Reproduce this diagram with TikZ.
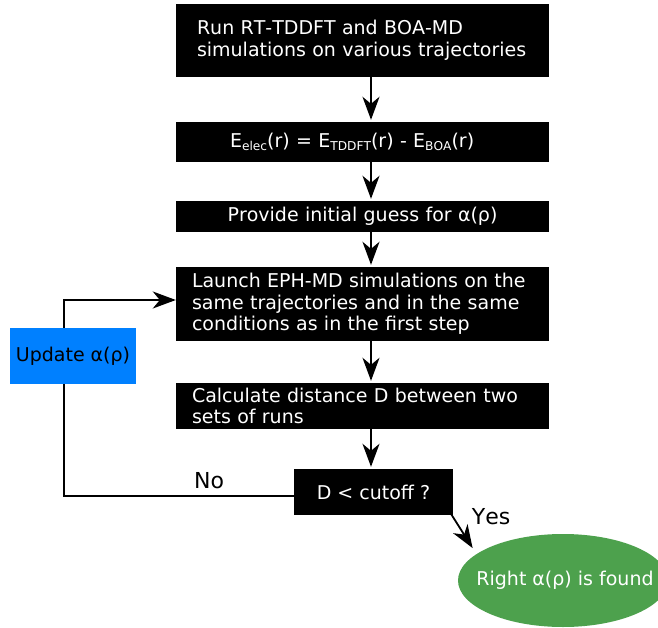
\documentclass[tikz,border=0pt]{standalone}
\usepackage{fontspec}
\setmainfont[Kerning=Off]{DejaVu Sans}
\usetikzlibrary{arrows.meta,shapes.geometric,calc}
\definecolor{updblue}{RGB}{0,128,255}
\definecolor{okgreen}{RGB}{77,161,77}
\newcommand\mybodyfont{\fontsize{19}{21.5}\selectfont}
\newcommand\mylabelfont{\fontsize{22}{26}\selectfont}
\newcommand\mysub[1]{\raisebox{-3.5pt}{\fontsize{12.2}{14}\selectfont #1}}
\begin{document}
\begin{tikzpicture}[x=1pt,y=-1pt,
  box/.style={fill=black, text=white, inner ysep=0pt, font=\mybodyfont, minimum width=373pt},
  conn/.style={line width=1.8pt, -{Stealth[length=23pt,width=17pt,inset=7pt]}},
  lbl/.style={font=\mylabelfont, anchor=base west, inner sep=0pt}]
\useasboundingbox (0,0) rectangle (658,628);
\coordinate (ax) at (371,0);
\coordinate (lx) at (64,0);
\node[box, minimum height=73pt, text width=331pt, inner xsep=21pt, align=left] (b1) at (362.5,40.5)
  {Run RT-TDDFT and BOA-MD\\simulations on various trajectories};
\node[box, minimum height=40pt, text width=265pt, inner xsep=54pt, align=left] (b2) at (362.5,142)
  {E\mysub{elec}(r) = E\mysub{TDDFT}(r) - E\mysub{BOA}(r)};
\node[box, minimum height=31pt, text width=373pt, inner xsep=0pt, align=center] (b3) at (362.5,216.5)
  {Provide initial guess for α(ρ)};
\node[box, minimum height=74pt, text width=341pt, inner xsep=16pt, align=left] (b4) at (362.5,304)
  {Launch EPH-MD simulations on the\\same trajectories and in the same\\conditions as in the first step};
\node[box, minimum height=46pt, text width=341pt, inner xsep=16pt, align=left] (b5) at (362.5,406)
  {Calculate distance D between two\\sets of runs};
\node[box, minimum width=159pt, minimum height=46pt, inner xsep=0pt] (dec) at (373.5,492)
  {D < cutoff ?};
\node[ellipse, fill=okgreen, minimum width=210pt, minimum height=93pt, inner sep=0pt,
  label={[text=white, font=\mybodyfont, xshift=2pt]center:Right α(ρ) is found}] (ell) at (563,580.5) {};

\draw[conn, shorten >=2pt] (b1.south -| ax) -- (b2.north -| ax);
\draw[conn, shorten >=2pt] (b2.south -| ax) -- (b3.north -| ax);
\draw[conn, shorten >=2pt] (b3.south -| ax) -- (b4.north -| ax);
\draw[conn, shorten >=2pt] (b4.south -| ax) -- (b5.north -| ax);
\draw[conn, shorten >=2pt] (b5.south -| ax) -- (dec.north -| ax);
\draw[conn, shorten >=7pt] ([xshift=-2pt,yshift=1pt]dec.south east) -- (ell.163);
\draw[conn] ([yshift=-4pt]dec.west) -- ([yshift=-4pt]dec.west -| lx) |- ([yshift=4pt]b4.west);

\node[fill=updblue, text=black, font=\mybodyfont, minimum width=126pt, minimum height=56pt, inner sep=0pt] (upd) at (73,356)
  {Update α(ρ)};
\node[lbl] (no) at (194,488) {No};
\node[lbl] (yes) at (471.7,524.3) {Yes};
\end{tikzpicture}
\end{document}
